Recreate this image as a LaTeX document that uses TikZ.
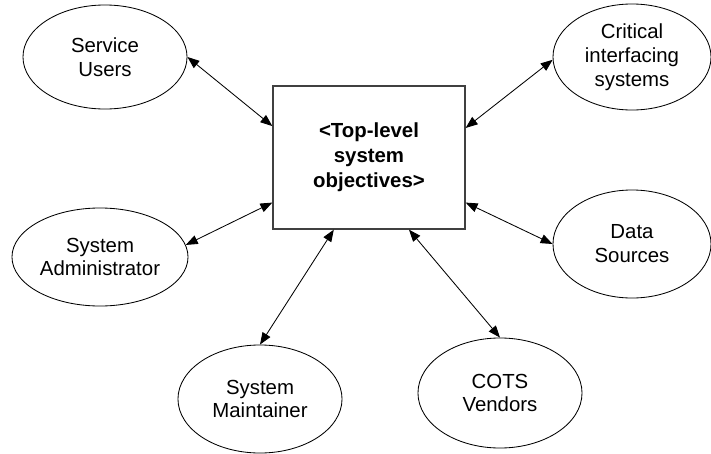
\documentclass[tikz,border=0pt]{standalone}
\usepackage{fontspec}
\setmainfont{Liberation Sans}
\usetikzlibrary{shapes.geometric, arrows.meta, positioning}

\begin{document}
\begin{tikzpicture}[
  x=0.025cm, y=-0.025cm,
  actor/.style={draw, ellipse, line width=0.6pt, inner sep=0pt, align=center, font=\fontsize{14.5}{17}\selectfont},
  objbox/.style={draw=black!75, line width=0.9pt, minimum width=4.8cm, minimum height=3.575cm, align=center, font=\fontsize{14.5}{17.8}\selectfont\bfseries},
  link/.style={{Triangle[length=8.5pt, width=6.5pt]}-{Triangle[length=8.5pt, width=6.5pt]}, line width=0.6pt}
]
  \useasboundingbox (0,0) rectangle (711,454);
  \node[objbox] (obj) at (369, 157.5) {<Top-level\\system\\objectives>};
  \node[actor, minimum width=4.1cm, minimum height=2.6cm] (users) at (105, 57) {Service\\Users};
  \node[actor, minimum width=3.95cm, minimum height=2.65cm] (crit) at (632, 57) {Critical\\interfacing\\systems};
  \node[actor, minimum width=4.4cm, minimum height=2.45cm] (admin) at (100, 257) {System\\Administrator};
  \node[actor, minimum width=3.95cm, minimum height=2.7cm] (data) at (632, 244) {Data\\Sources};
  \node[actor, minimum width=4.1cm, minimum height=2.7cm] (maint) at (260, 399) {System\\Maintainer};
  \node[actor, minimum width=4.1cm, minimum height=2.75cm] (cots) at (500, 393) {COTS\\Vendors};
  % connectors
  \draw[link] (users.east) -- (obj.162);
  \draw[link] (crit.182) -- (obj.17);
  \draw[link] (admin.8) -- (obj.205);
  \draw[link] (data.west) -- (obj.335);
  \draw[link] (maint.north) -- (obj.244);
  \draw[link] (cots.north) -- (obj.299);
\end{tikzpicture}
\end{document}
